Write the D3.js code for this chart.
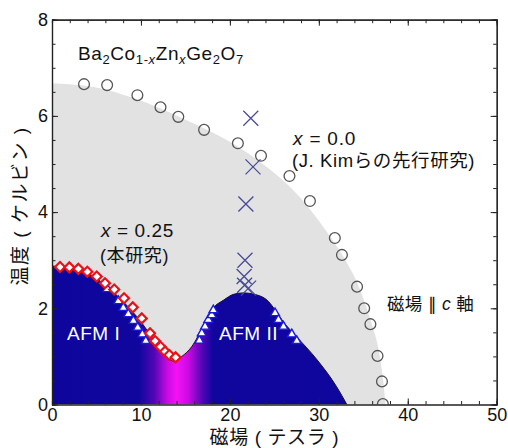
<!DOCTYPE html>
<html>
<head>
<meta charset="utf-8">
<script src="https://cdn.jsdelivr.net/npm/d3@7"></script>
<style>
  body { margin: 0; background: #fff; }
  text { font-family: "Liberation Sans", Arial, "Noto Sans CJK JP", sans-serif; }
</style>
</head>
<body>
<div id="chart"></div>
<script>
// tick values
var xTicks = [0, 10, 20, 30, 40, 50];
var yTicks = [0, 2, 4, 6, 8];

// x = 0.0 (previous study), open circles
var kimH = [3.6, 6.2, 9.6, 12.2, 14.2, 17.1, 20.9, 23.5, 26.7, 29.0, 31.8, 32.6, 34.3, 35.1, 35.8, 36.6, 37.1, 37.2];
var kimT = [6.66, 6.64, 6.43, 6.18, 5.98, 5.71, 5.43, 5.17, 4.75, 4.23, 3.46, 3.11, 2.45, 2.0, 1.67, 1.01, 0.48, 0.01];

// x = 0.0 crosses
var crossH = [22.35, 22.6, 21.8, 21.7, 21.6, 21.65, 22.1];
var crossT = [5.95, 4.94, 4.17, 3.0, 2.66, 2.48, 2.42];

// x = 0.25 diamonds
var diaH = [0.9, 1.95, 2.96, 3.97, 5.03, 5.96, 7.0, 8.1, 9.08, 10.09, 11.02, 11.59, 12.2, 12.71, 13.2, 13.9];
var diaT = [2.86, 2.85, 2.82, 2.76, 2.66, 2.52, 2.39, 2.21, 2.02, 1.79, 1.48, 1.32, 1.2, 1.1, 1.03, 0.98];

// x = 0.25 triangles
var triH = [6.22, 7.46, 8.02, 8.58, 9.15, 9.64, 10.16, 10.54,
            16.57, 16.84, 17.21, 17.58, 17.96, 18.14,
            25.08, 25.46, 26.02, 26.96, 27.52];
var triT = [2.40, 2.15, 2.01, 1.88, 1.74, 1.60, 1.46, 1.32,
            1.33, 1.48, 1.62, 1.76, 1.86, 1.96,
            1.90, 1.76, 1.62, 1.46, 1.32];

// gray phase boundary (x = 0.0)
var grayH = [0, 3, 6, 9, 12, 15, 18, 21, 24, 27, 29, 31, 33, 34.5, 35.8, 36.9, 37.3, 37.5];
var grayT = [6.68, 6.64, 6.55, 6.38, 6.17, 5.92, 5.66, 5.35, 4.96, 4.48, 4.06, 3.56, 3.0, 2.45, 1.76, 0.95, 0.4, 0];

// ordered phase boundary (x = 0.25)
var afmH = [0, 1, 2, 3, 4, 5, 6, 7, 8, 9, 10, 11, 12, 13, 13.7, 14.6, 15.7, 16.5, 17.2, 18.1, 19.3, 20.4, 21.5, 23.0, 24.35, 25.1, 26, 27.5, 29.8, 32.0, 33.15];
var afmT = [2.88, 2.86, 2.84, 2.8, 2.73, 2.62, 2.48, 2.32, 2.14, 1.94, 1.72, 1.46, 1.2, 0.98, 0.9, 1.0, 1.2, 1.45, 1.72, 2.0, 2.17, 2.29, 2.32, 2.28, 2.14, 1.96, 1.72, 1.41, 0.93, 0.37, 0];

var W = 508, H = 448;
var margin = {left: 52, right: 11.3, top: 19.7, bottom: 43.5};

var svg = d3.select("#chart").append("svg")
    .attr("width", W)
    .attr("height", H);

var x = d3.scaleLinear().domain([0, 50]).range([margin.left, W - margin.right]);
var y = d3.scaleLinear().domain([0, 8]).range([H - margin.bottom, margin.top]);

var defs = svg.append("defs");
defs.append("clipPath").attr("id", "plotClip")
    .append("rect")
    .attr("x", x(0)).attr("y", y(8))
    .attr("width", x(50) - x(0)).attr("height", y(0) - y(8));

// horizontal colour gradient of the ordered phase
var grad = defs.append("linearGradient")
    .attr("id", "afmGrad")
    .attr("gradientUnits", "userSpaceOnUse")
    .attr("x1", x(0)).attr("x2", x(50)).attr("y1", 0).attr("y2", 0);
[[0, "#0e069c"], [9.8, "#10069e"], [11.5, "#5206b6"], [13.0, "#cc0ae4"], [14.0, "#f412f4"],
 [15.3, "#cc0ae4"], [16.9, "#5206b6"], [18.1, "#10069e"], [50, "#0e069c"]].forEach(function(s) {
    grad.append("stop").attr("offset", s[0] / 50).attr("stop-color", s[1]);
});

var plot = svg.append("g").attr("clip-path", "url(#plotClip)");

var grayData = grayH.map(function(h, i) { return [h, grayT[i]]; });
var afmData = afmH.map(function(h, i) { return [h, afmT[i]]; });

var area = d3.area()
    .x(function(d) { return x(d[0]); })
    .y0(y(0))
    .y1(function(d) { return y(d[1]); })
    .curve(d3.curveMonotoneX);

plot.append("path").datum(grayData)
    .attr("d", area)
    .attr("fill", "#e2e2e2");

plot.append("path").datum(afmData)
    .attr("d", area)
    .attr("fill", "url(#afmGrad)");

plot.append("path").datum(afmData)
    .attr("d", d3.line().x(function(d) { return x(d[0]); }).y(function(d) { return y(d[1]); }).curve(d3.curveMonotoneX))
    .attr("fill", "none")
    .attr("stroke", "#151030")
    .attr("stroke-width", 1);

// circles
plot.selectAll("circle.kim")
    .data(kimH)
    .enter()
    .append("circle")
    .attr("class", "kim")
    .attr("cx", function(d) { return x(d); })
    .attr("cy", function(d, i) { return y(kimT[i]); })
    .attr("r", 5.4)
    .attr("fill", "none")
    .attr("stroke", "#555")
    .attr("stroke-width", 1.3);

// crosses
plot.selectAll("path.cross")
    .data(crossH)
    .enter()
    .append("path")
    .attr("class", "cross")
    .attr("transform", function(d, i) { return "translate(" + x(d) + "," + y(crossT[i]) + ")"; })
    .attr("d", "M-7.5,-7.5L7.5,7.5M-7.5,7.5L7.5,-7.5")
    .attr("fill", "none")
    .attr("stroke", "#4a4a98")
    .attr("stroke-width", 1.3);

// triangles
plot.selectAll("path.tri")
    .data(triH)
    .enter()
    .append("path")
    .attr("class", "tri")
    .attr("transform", function(d, i) { return "translate(" + x(d) + "," + y(triT[i]) + ")"; })
    .attr("d", d3.symbol().type(d3.symbolTriangle).size(34))
    .attr("fill", "#fff")
    .attr("stroke", "#1a1ad8")
    .attr("stroke-width", 1.4);

// diamonds
plot.selectAll("path.dia")
    .data(diaH)
    .enter()
    .append("path")
    .attr("class", "dia")
    .attr("transform", function(d, i) { return "translate(" + x(d) + "," + y(diaT[i]) + ") rotate(45)"; })
    .attr("d", d3.symbol().type(d3.symbolSquare).size(50))
    .attr("fill", "#fff")
    .attr("stroke", "#e4141c")
    .attr("stroke-width", 2.2);

// axes, ticks inward on all four sides
function minorTicks(lo, hi, step) {
    return d3.range(lo, hi + 1e-9, step);
}
var xMinor = minorTicks(0, 50, 2);
var yMinor = minorTicks(0, 8, 0.5);

var axisFont = 18;

svg.append("g")
    .attr("transform", "translate(0," + y(0) + ")")
    .call(d3.axisBottom(x).tickValues(xMinor).tickSize(-3.5).tickFormat(""));
var xAx = svg.append("g")
    .attr("transform", "translate(0," + y(0) + ")")
    .call(d3.axisBottom(x).tickValues(xTicks).tickSize(-6).tickPadding(4).tickSizeOuter(0));
xAx.selectAll("text").attr("font-size", axisFont).attr("fill", "#111");

svg.append("g")
    .attr("transform", "translate(0," + y(8) + ")")
    .call(d3.axisTop(x).tickValues(xMinor).tickSize(-3.5).tickFormat(""));
svg.append("g")
    .attr("transform", "translate(0," + y(8) + ")")
    .call(d3.axisTop(x).tickValues(xTicks).tickSize(-6).tickFormat("").tickSizeOuter(0));

svg.append("g")
    .attr("transform", "translate(" + x(0) + ",0)")
    .call(d3.axisLeft(y).tickValues(yMinor).tickSize(-3.5).tickFormat(""));
var yAx = svg.append("g")
    .attr("transform", "translate(" + x(0) + ",0)")
    .call(d3.axisLeft(y).tickValues(yTicks).tickSize(-6).tickPadding(4).tickSizeOuter(0));
yAx.selectAll("text").attr("font-size", axisFont).attr("fill", "#111");

svg.append("g")
    .attr("transform", "translate(" + x(50) + ",0)")
    .call(d3.axisRight(y).tickValues(yMinor).tickSize(-3.5).tickFormat(""));
svg.append("g")
    .attr("transform", "translate(" + x(50) + ",0)")
    .call(d3.axisRight(y).tickValues(yTicks).tickSize(-6).tickFormat("").tickSizeOuter(0));

svg.selectAll(".tick line").attr("stroke", "#222");
svg.selectAll(".domain").attr("stroke", "#222").attr("stroke-width", 1.2);

// titles
svg.append("text")
    .attr("x", (x(0) + x(50)) / 2)
    .attr("y", 444)
    .attr("text-anchor", "middle")
    .attr("font-size", 19)
    .attr("letter-spacing", 0.6)
    .attr("fill", "#111")
    .text("磁場 ( テスラ )");

svg.append("text")
    .attr("transform", "translate(27," + 206 + ") rotate(-90)")
    .attr("text-anchor", "middle")
    .attr("font-size", 19)
    .attr("letter-spacing", 1.5)
    .attr("fill", "#111")
    .text("温度 ( ケルビン )");

// annotations
var t = svg.append("text").attr("x", 78).attr("y", 60).attr("font-size", 19)
    .attr("letter-spacing", 0.6).attr("fill", "#111");
t.append("tspan").text("Ba");
t.append("tspan").attr("font-size", 13).attr("dy", 4).text("2");
t.append("tspan").attr("dy", -4).text("Co");
t.append("tspan").attr("font-size", 13).attr("dy", 4).text("1-");
t.append("tspan").attr("font-size", 13).attr("font-style", "italic").text("x");
t.append("tspan").attr("dy", -4).text("Zn");
t.append("tspan").attr("font-size", 13).attr("font-style", "italic").attr("dy", 4).text("x");
t.append("tspan").attr("dy", -4).text("Ge");
t.append("tspan").attr("font-size", 13).attr("dy", 4).text("2");
t.append("tspan").attr("dy", -4).text("O");
t.append("tspan").attr("font-size", 13).attr("dy", 4).text("7");

function label(xp, yp, parts, size, color, spacing) {
    var el = svg.append("text").attr("x", xp).attr("y", yp).attr("font-size", size)
        .attr("letter-spacing", spacing || 0).attr("fill", color || "#111");
    parts.forEach(function(p) {
        el.append("tspan").attr("font-style", p[1] ? "italic" : "normal").text(p[0]);
    });
    return el;
}

label(293, 145, [["x", true], [" = 0.0", false]], 19, "#111", 0.8);
label(292, 167, [["(J. Kimらの先行研究)", false]], 18.5, "#111", 0.6);
label(101, 237, [["x", true], [" = 0.25", false]], 19, "#111", 0.6);
label(100, 262, [["(本研究)", false]], 18, "#111", 0.6);
label(67, 340, [["AFM I", false]], 19, "#fff", 0.5);
label(219, 340, [["AFM II", false]], 19, "#fff", 0.5);

var fld = label(387, 310, [["磁場 ", false]], 17.5, "#111", 0.3);
fld.append("tspan").attr("font-family", "DejaVu Sans").text("∥");
fld.append("tspan").text(" ");
fld.append("tspan").attr("font-style", "italic").text("c");
fld.append("tspan").text(" 軸");
</script>
</body>
</html>
